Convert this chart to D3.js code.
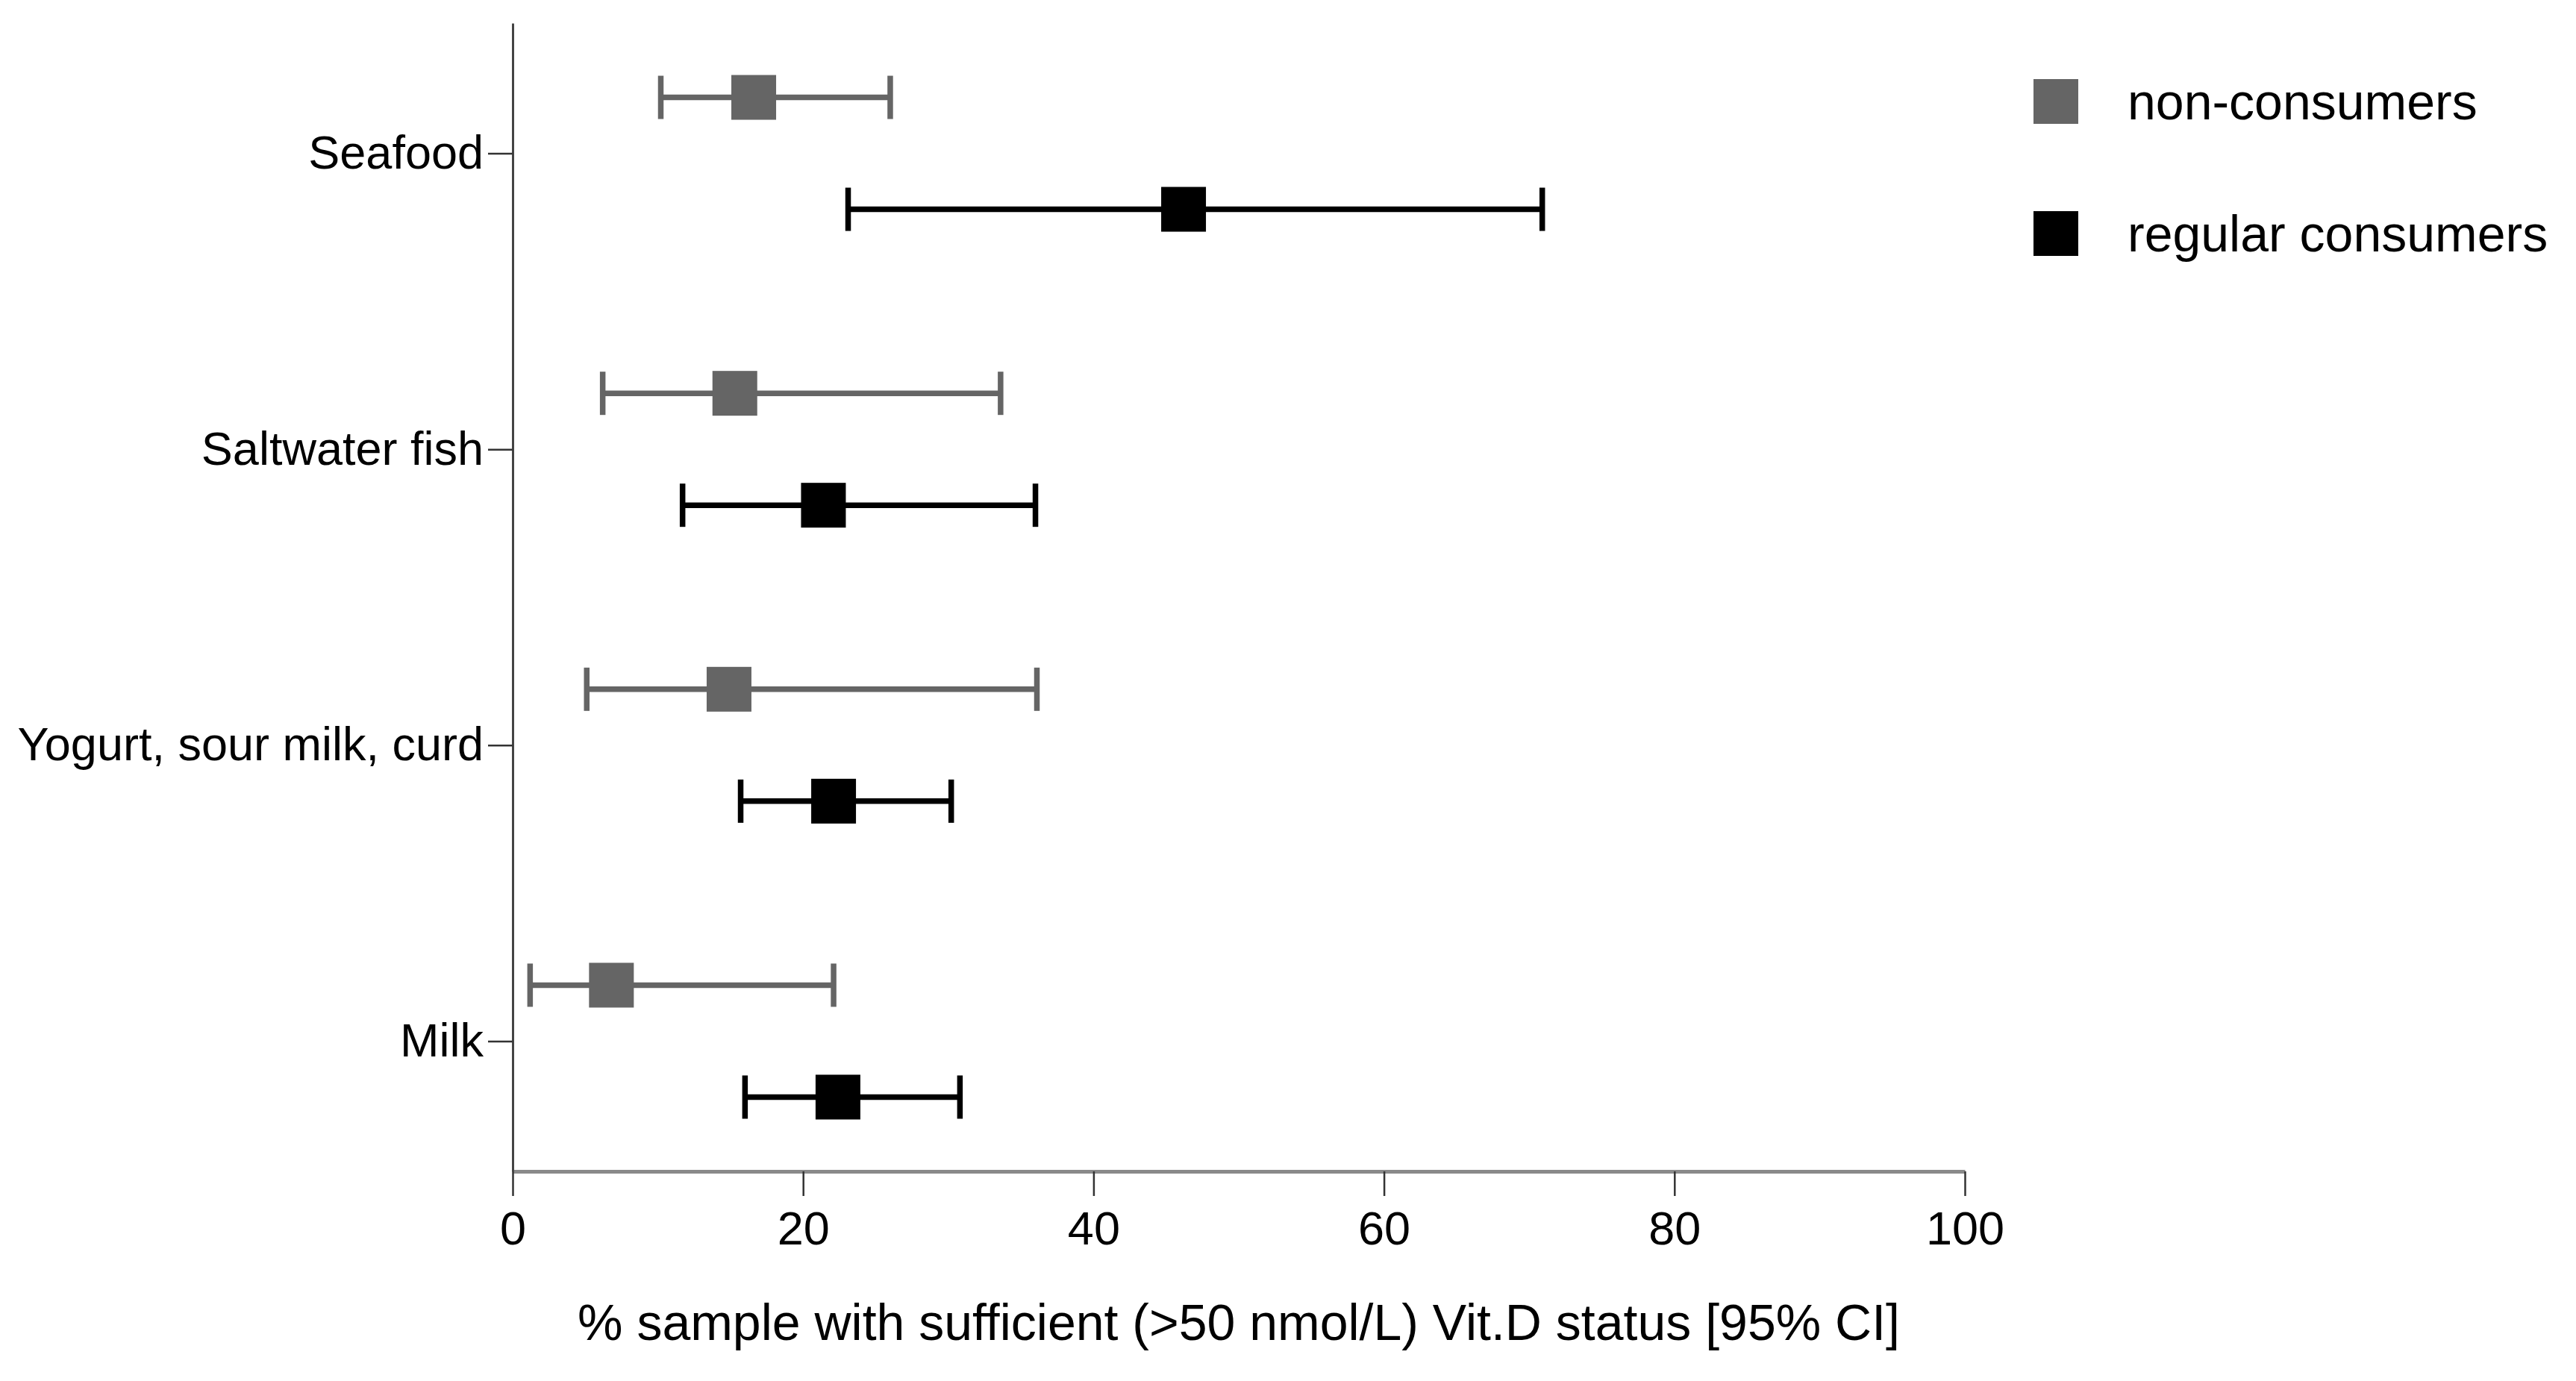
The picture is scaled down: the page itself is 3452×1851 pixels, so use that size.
<!DOCTYPE html>
<html>
<head>
<meta charset="utf-8">
<script src="https://cdn.jsdelivr.net/npm/d3@7"></script>
<style>
  body { margin: 0; background: #fff; }
  text { font-family: "Liberation Sans", Arial, sans-serif; fill: #000; }
</style>
</head>
<body>
<div id="figure"></div>
<script>
// food groups, top to bottom
var categories = ["Seafood", "Saltwater fish", "Yogurt, sour milk, curd", "Milk"];
var groups = ["non-consumers", "regular consumers"];
var groupColors = ["#656565", "#000000"];

// % with sufficient vit D, estimate and 95% CI, per category
var nonEst  = [16.6, 15.3, 14.9, 6.8];
var nonLow  = [10.2, 6.2, 5.1, 1.2];
var nonHigh = [26.0, 33.6, 36.1, 22.1];
var regEst  = [46.2, 21.4, 22.1, 22.4];
var regLow  = [23.1, 11.7, 15.7, 16.0];
var regHigh = [70.9, 36.0, 30.2, 30.8];

var xTicks = [0, 20, 40, 60, 80, 100];
var xTitle = "% sample with sufficient (>50 nmol/L) Vit.D status [95% CI]";

var width = 3452, height = 1851;
var fontSize = 63;
var bigFont = 68;

var svg = d3.select("#figure")
    .append("svg")
    .attr("width", width)
    .attr("height", height)

var x = d3.scaleLinear().domain([0, 100]).range([687, 2633]);
var y = d3.scalePoint().domain(categories).range([31, 1570]).padding(0.44);
var off = d3.scalePoint().domain(groups).range([-75, 75]);

// build rows from the arrays
var rows = [];
categories.forEach(function (c, i) {
    rows.push({ cat: c, group: groups[0], est: nonEst[i], lo: nonLow[i], hi: nonHigh[i] });
    rows.push({ cat: c, group: groups[1], est: regEst[i], lo: regLow[i], hi: regHigh[i] });
});
var color = d3.scaleOrdinal().domain(groups).range(groupColors);

// x axis
var xAxis = svg.append("g")
    .attr("transform", "translate(0," + 1570 + ")")
    .call(d3.axisBottom(x).tickValues(xTicks).tickSize(33).tickSizeOuter(0).tickPadding(20));
xAxis.select(".domain").attr("stroke", "#8a8a8a").attr("stroke-width", 5);
xAxis.selectAll(".tick line").attr("stroke", "#333").attr("stroke-width", 2.5);
xAxis.selectAll(".tick text").style("font-size", fontSize + "px").attr("fill", "#000");

// y axis
var yAxis = svg.append("g")
    .attr("transform", "translate(" + 687 + ",0)")
    .call(d3.axisLeft(y).tickSize(33).tickSizeOuter(0).tickPadding(6));
yAxis.select(".domain").attr("stroke", "#444").attr("stroke-width", 3);
yAxis.selectAll(".tick line").attr("stroke", "#333").attr("stroke-width", 2.5);
yAxis.selectAll(".tick text").style("font-size", fontSize + "px").attr("fill", "#000");

svg.append("text")
    .attr("x", (x(0) + x(100)) / 2)
    .attr("y", 1796)
    .attr("text-anchor", "middle")
    .style("font-size", bigFont + "px")
    .text(xTitle);

var cy = function (d) { return y(d.cat) + off(d.group) };
var capH = 58, box = 60, lw = 7.5;

var bars = svg.selectAll(".bar")
    .data(rows)
    .enter()
    .append("g")
    .attr("class", "bar")

bars.append("line")
    .attr("x1", function (d) { return x(d.lo) })
    .attr("x2", function (d) { return x(d.hi) })
    .attr("y1", cy)
    .attr("y2", cy)
    .attr("stroke", function (d) { return color(d.group) })
    .attr("stroke-width", lw)

bars.append("line")
    .attr("x1", function (d) { return x(d.lo) })
    .attr("x2", function (d) { return x(d.lo) })
    .attr("y1", function (d) { return cy(d) - capH / 2 })
    .attr("y2", function (d) { return cy(d) + capH / 2 })
    .attr("stroke", function (d) { return color(d.group) })
    .attr("stroke-width", lw)

bars.append("line")
    .attr("x1", function (d) { return x(d.hi) })
    .attr("x2", function (d) { return x(d.hi) })
    .attr("y1", function (d) { return cy(d) - capH / 2 })
    .attr("y2", function (d) { return cy(d) + capH / 2 })
    .attr("stroke", function (d) { return color(d.group) })
    .attr("stroke-width", lw)

bars.append("rect")
    .attr("x", function (d) { return x(d.est) - box / 2 })
    .attr("y", function (d) { return cy(d) - box / 2 })
    .attr("width", box)
    .attr("height", box)
    .attr("fill", function (d) { return color(d.group) })

// legend
var legend = svg.selectAll(".legend")
    .data(groups)
    .enter()
    .append("g")
    .attr("class", "legend")
    .attr("transform", function (d, i) { return "translate(2755," + (136 + i * 177) + ")" })

legend.append("rect")
    .attr("x", -box / 2)
    .attr("y", -box / 2)
    .attr("width", box)
    .attr("height", box)
    .attr("fill", function (d) { return color(d) })

legend.append("text")
    .attr("x", 96)
    .attr("dy", "0.35em")
    .style("font-size", bigFont + "px")
    .text(function (d) { return d })
</script>
</body>
</html>
